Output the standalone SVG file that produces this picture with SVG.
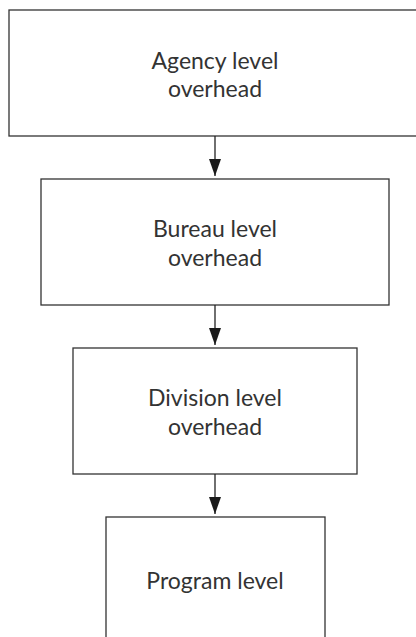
<svg xmlns="http://www.w3.org/2000/svg" width="416" height="637" viewBox="0 0 416 637">
<style>
  .box { fill: #ffffff; stroke: #333333; stroke-width: 1.3; }
  .lbl { font-family: Lato, "Open Sans", sans-serif; font-size: 23px; fill: #333333; text-anchor: middle; }
  .conn { stroke: #222222; stroke-width: 1.3; fill: none; }
</style>
<defs>
  <marker id="arrow" markerUnits="userSpaceOnUse" markerWidth="18" markerHeight="12" refX="17" refY="6" orient="auto" viewBox="0 0 18 12">
    <path d="M0,0 L17,6 L0,12 Z" fill="#1a1a1a"/>
  </marker>
</defs>
<rect width="416" height="637" fill="#ffffff"/>
<g id="agency">
  <rect class="box" x="9" y="10" width="412" height="126"/>
  <text class="lbl" x="215" y="69">Agency level</text>
  <text class="lbl" x="215" y="97">overhead</text>
</g>
<g id="bureau">
  <rect class="box" x="41" y="179" width="348" height="126"/>
  <text class="lbl" x="215" y="237">Bureau level</text>
  <text class="lbl" x="215" y="266">overhead</text>
</g>
<g id="division">
  <rect class="box" x="73" y="348" width="284" height="126"/>
  <text class="lbl" x="215" y="406">Division level</text>
  <text class="lbl" x="215" y="435">overhead</text>
</g>
<g id="program">
  <rect class="box" x="106" y="517" width="219" height="130"/>
  <text class="lbl" x="215" y="589">Program level</text>
</g>
<g id="connectors">
  <line class="conn" x1="215" y1="136" x2="215" y2="176" marker-end="url(#arrow)"/>
  <line class="conn" x1="215" y1="305" x2="215" y2="345" marker-end="url(#arrow)"/>
  <line class="conn" x1="215" y1="474" x2="215" y2="514" marker-end="url(#arrow)"/>
</g>
</svg>
